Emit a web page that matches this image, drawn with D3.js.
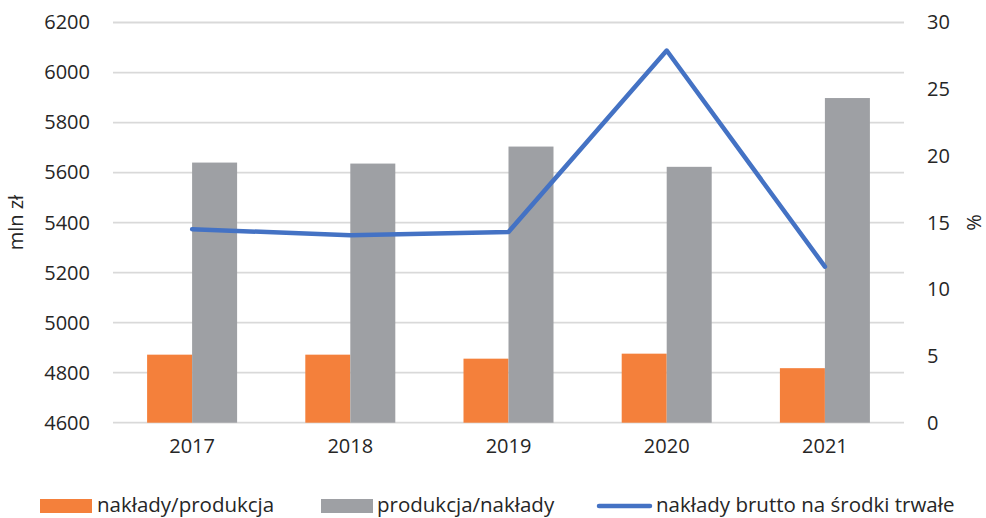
<!DOCTYPE html>
<html>
<head>
<meta charset="utf-8">
<script src="https://cdn.jsdelivr.net/npm/d3@7"></script>
<style>
  body { margin: 0; background: #fff; }
  text { font-family: "Open Sans", sans-serif; fill: #262626; }
</style>
</head>
<body>
<svg id="chart" width="986" height="518"></svg>
<script>
// chart data
var years = ['2017', '2018', '2019', '2020', '2021'];
var nakladyProdukcja = [4872, 4872, 4856, 4876, 4818];
var produkcjaNaklady = [5640, 5636, 5704, 5623, 5898];
var nakladyBrutto = [14.5, 14.05, 14.3, 27.9, 11.7];
var leftTicks = [4600, 4800, 5000, 5200, 5400, 5600, 5800, 6000, 6200];
var rightTicks = [0, 5, 10, 15, 20, 25, 30];
var seriesNames = ['nakłady/produkcja', 'produkcja/nakłady', 'nakłady brutto na środki trwałe'];

var colors = { orange: '#F4803B', gray: '#9EA0A4', blue: '#4472C4', grid: '#D9D9D9' };

var svg = d3.select('#chart');
var plotLeft = 113, plotRight = 904, plotTop = 22.5, plotBottom = 422.7;

var x = d3.scaleBand()
    .domain(years)
    .range([plotLeft, plotRight])
    .paddingInner(0)
    .paddingOuter(0);

var yL = d3.scaleLinear().domain([4600, 6200]).range([plotBottom, plotTop]);
var yR = d3.scaleLinear().domain([0, 30]).range([plotBottom, plotTop]);

var barW = 45;

// gridlines
svg.append('g')
  .selectAll('line')
  .data(leftTicks)
  .enter().append('line')
  .attr('x1', plotLeft).attr('x2', plotRight)
  .attr('y1', function(d) { return yL(d); })
  .attr('y2', function(d) { return yL(d); })
  .attr('stroke', colors.grid)
  .attr('stroke-width', 1.8);

// left axis
var axL = svg.append('g')
  .attr('transform', 'translate(' + (plotLeft - 23) + ',0)')
  .call(d3.axisLeft(yL).tickValues(leftTicks).tickFormat(d3.format('d')).tickSize(0).tickPadding(0));
axL.select('.domain').remove();
axL.selectAll('text').style('font-size', '20px').attr('fill', '#262626');

// right axis
var axR = svg.append('g')
  .attr('transform', 'translate(' + (plotRight + 23) + ',0)')
  .call(d3.axisRight(yR).tickValues(rightTicks).tickFormat(d3.format('d')).tickSize(0).tickPadding(0));
axR.select('.domain').remove();
axR.selectAll('text').style('font-size', '20px').attr('fill', '#262626');

// x axis labels
var axX = svg.append('g')
  .attr('transform', 'translate(0,' + (plotBottom + 16) + ')')
  .call(d3.axisBottom(x).tickSize(0).tickPadding(0));
axX.select('.domain').remove();
axX.selectAll('text').style('font-size', '20px').attr('fill', '#262626');

// bars
svg.append('g')
  .selectAll('rect')
  .data(years)
  .enter().append('rect')
  .attr('x', function(d) { return x(d) + x.bandwidth() / 2 - barW; })
  .attr('y', function(d, i) { return yL(nakladyProdukcja[i]); })
  .attr('width', barW)
  .attr('height', function(d, i) { return plotBottom - yL(nakladyProdukcja[i]); })
  .attr('fill', colors.orange);

svg.append('g')
  .selectAll('rect')
  .data(years)
  .enter().append('rect')
  .attr('x', function(d) { return x(d) + x.bandwidth() / 2; })
  .attr('y', function(d, i) { return yL(produkcjaNaklady[i]); })
  .attr('width', barW)
  .attr('height', function(d, i) { return plotBottom - yL(produkcjaNaklady[i]); })
  .attr('fill', colors.gray);

// line
var line = d3.line()
  .x(function(d, i) { return x(years[i]) + x.bandwidth() / 2; })
  .y(function(d) { return yR(d); });

svg.append('path')
  .datum(nakladyBrutto)
  .attr('d', line)
  .attr('fill', 'none')
  .attr('stroke', colors.blue)
  .attr('stroke-width', 4.5)
  .attr('stroke-linecap', 'round')
  .attr('stroke-linejoin', 'round');

// axis titles
svg.append('text')
  .attr('transform', 'translate(23,' + ((plotTop + plotBottom) / 2) + ') rotate(-90)')
  .attr('text-anchor', 'middle')
  .style('font-size', '20px')
  .text('mln zł');

svg.append('text')
  .attr('transform', 'translate(981,' + ((plotTop + plotBottom) / 2) + ') rotate(-90)')
  .attr('text-anchor', 'middle')
  .style('font-size', '20px')
  .text('%');

// legend
var legY = 506;
svg.append('rect').attr('x', 40).attr('y', legY - 7).attr('width', 52).attr('height', 14).attr('fill', colors.orange);
svg.append('text').attr('x', 97).attr('y', legY + 6).style('font-size', '20.5px').text(seriesNames[0]);

svg.append('rect').attr('x', 321).attr('y', legY - 7).attr('width', 52).attr('height', 14).attr('fill', colors.gray);
svg.append('text').attr('x', 377).attr('y', legY + 6).style('font-size', '20.5px').text(seriesNames[1]);

svg.append('line').attr('x1', 599).attr('x2', 650).attr('y1', legY).attr('y2', legY)
  .attr('stroke', colors.blue).attr('stroke-width', 4.5).attr('stroke-linecap', 'round');
svg.append('text').attr('x', 656).attr('y', legY + 6).style('font-size', '20.5px').text(seriesNames[2]);
</script>
</body>
</html>
